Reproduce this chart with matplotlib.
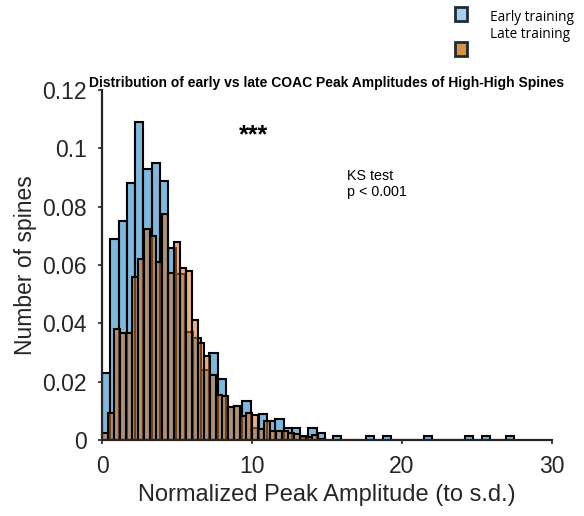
import numpy as np
import matplotlib
matplotlib.use("Agg")
import matplotlib.pyplot as plt
from matplotlib.patches import Rectangle

# probability per bin
early_width = 0.55  # bin width of the early histogram
early_vals = [0.023, 0.069, 0.075, 0.088, 0.109, 0.093, 0.095, 0.089, 0.066, 0.057,
              0.037, 0.035, 0.024, 0.0297, 0.0208, 0.0112, 0.0117, 0.0134, 0.004, 0.0089,
              0.0066, 0.0073, 0.0042, 0.0042, 0.0011, 0.0042, 0.0025, 0.0, 0.0013, 0.0,
              0.0, 0.0, 0.0013, 0.0, 0.0013, 0.0, 0.0, 0.0, 0.0, 0.0013,
              0.0, 0.0, 0.0, 0.0, 0.0013, 0.0, 0.0013, 0.0, 0.0, 0.0013]

late_width = 0.4  # bin width of the late histogram
late_vals = [0.0025, 0.0091, 0.038, 0.0366, 0.0366, 0.0558, 0.062, 0.0723, 0.070, 0.061,
             0.0774, 0.0574, 0.068, 0.059, 0.0578, 0.041, 0.0334, 0.0288, 0.0223, 0.0155,
             0.015, 0.0112, 0.0117, 0.0084, 0.0094, 0.0085, 0.0037, 0.0066, 0.0032, 0.0032,
             0.0032, 0.0025, 0.002, 0.0012, 0.001, 0.0017, 0.0005]

x_ticks = [0, 10, 20, 30]
y_ticks = [0, 0.02, 0.04, 0.06, 0.08, 0.1, 0.12]
y_ticklabels = ["0", "0.02", "0.04", "0.06", "0.08", "0.1", "0.12"]

plt.rcParams["font.family"] = ["Liberation Sans", "DejaVu Sans"]
ink = "#262626"

fig = plt.figure(figsize=(5.84, 5.16), dpi=100)
ax = fig.add_axes([0.1747, 0.1473, 0.7705, 0.678])

early_edges = np.arange(len(early_vals)) * early_width
late_edges = np.arange(len(late_vals)) * late_width

ax.bar(early_edges, early_vals, width=early_width, align="edge",
       color=(0.0, 0.447, 0.741, 0.5), edgecolor="black", linewidth=1.5)
ax.bar(late_edges, late_vals, width=late_width, align="edge",
       color=(0.82, 0.45, 0.14, 0.55), edgecolor="black", linewidth=1.5)

ax.set_xlim(0, 30)
ax.set_ylim(0, 0.12)
ax.set_xticks(x_ticks)
ax.set_yticks(y_ticks)
ax.set_yticklabels(y_ticklabels)
ax.tick_params(direction="out", length=3, width=1.2, colors=ink, labelsize=16.5)
ax.tick_params(axis="y", pad=8)
ax.tick_params(axis="x", pad=8)
for s in ["top", "right"]:
    ax.spines[s].set_visible(False)
for s in ["left", "bottom"]:
    ax.spines[s].set_color(ink)
    ax.spines[s].set_linewidth(1.6)

ax.set_xlabel("Normalized Peak Amplitude (to s.d.)", fontsize=17, color=ink, labelpad=4)
ax.set_ylabel("Number of spines", fontsize=16.5, color=ink, labelpad=4)
ax.set_title("Distribution of early vs late COAC Peak Amplitudes of High-High Spines",
             fontsize=10, fontweight="bold", color="black", pad=2)

ax.text(10.1, 0.1045, "***", fontsize=18, fontweight="bold", ha="center", va="center")
ax.text(16.3, 0.0905, "KS test", fontsize=10.3, ha="left", va="center")
ax.text(16.3, 0.085, "p < 0.001", fontsize=10.3, ha="left", va="center")

# legend drawn as separate boxes above the plot
fig.patches.append(Rectangle((455 / 584, 1 - 21 / 516), 12 / 584, 14 / 516,
                             transform=fig.transFigure, facecolor="#a9cdec",
                             edgecolor="#1c2b3a", linewidth=2))
fig.patches.append(Rectangle((455 / 584, 1 - 56 / 516), 12 / 584, 14 / 516,
                             transform=fig.transFigure, facecolor="#d99343",
                             edgecolor="#1c2b3a", linewidth=2))
fig.text(490 / 584, 1 - 17 / 516, "Early training", fontsize=9.8, va="center",
         family=["Open Sans", "DejaVu Sans"])
fig.text(490 / 584, 1 - 35 / 516, "Late training", fontsize=9.8, va="center",
         family=["Open Sans", "DejaVu Sans"])

fig.savefig("out.png", dpi=100)
